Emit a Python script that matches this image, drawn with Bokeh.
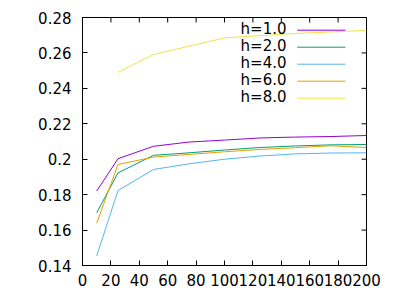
from bokeh.plotting import figure
from bokeh.models import Range1d, LinearAxis, FixedTicker, Label, Arrow
from bokeh.embed import file_html
from bokeh.resources import INLINE

# ---- data ----
x_vals = [10, 25, 50, 75, 100, 125, 150, 175, 200]
h1 = [0.1820, 0.2003, 0.2073, 0.2097, 0.2108, 0.2120, 0.2125, 0.2128, 0.2134]
h2 = [0.1697, 0.1923, 0.2022, 0.2036, 0.2052, 0.2066, 0.2075, 0.2081, 0.2083]
h4 = [0.1454, 0.1823, 0.1942, 0.1974, 0.2000, 0.2018, 0.2030, 0.2035, 0.2036]
h6 = [0.1639, 0.1970, 0.2012, 0.2027, 0.2042, 0.2055, 0.2065, 0.2076, 0.2066]
x_h8 = [25, 50, 100, 150, 200]
h8 = [0.2490, 0.2591, 0.2685, 0.2710, 0.2727]

series_names = ["h=1.0", "h=2.0", "h=4.0", "h=6.0", "h=8.0"]
series_colors = ["#9400d3", "#009e73", "#56b4e9", "#e69f00", "#f0e442"]

x_ticks = [0, 20, 40, 60, 80, 100, 120, 140, 160, 180, 200]
y_ticks = [0.14, 0.16, 0.18, 0.2, 0.22, 0.24, 0.26, 0.28]
y_tick_labels = ["0.14", "0.16", "0.18", "0.2", "0.22", "0.24", "0.26", "0.28"]

FONT = "DejaVu Sans"
FS = "15px"

W, H = 400, 300
BL, BR, BT, BB = 82, 34, 17, 35
X0, X1 = 0, 200
Y0, Y1 = 0.14, 0.28
TICK = 5  # px

p = figure(width=W, height=H, output_backend="svg", toolbar_location=None,
           x_range=Range1d(X0, X1), y_range=Range1d(Y0, Y1),
           min_border_left=BL, min_border_right=BR, min_border_top=BT, min_border_bottom=BB,
           x_axis_type=None, y_axis_type=None)
p.grid.visible = False
p.outline_line_color = "black"
p.outline_line_width = 1
p.background_fill_color = "white"
p.border_fill_color = "white"

def style_axis(ax):
    ax.axis_line_color = "black"
    ax.major_tick_line_color = "black"
    ax.major_tick_in = TICK
    ax.major_tick_out = 0
    ax.minor_tick_line_color = None
    ax.major_label_text_font = FONT
    ax.major_label_text_font_size = FS
    ax.major_label_text_color = "black"

xb = LinearAxis(ticker=FixedTicker(ticks=x_ticks))
style_axis(xb)
xb.major_label_standoff = 8
p.add_layout(xb, "below")

yl = LinearAxis(ticker=FixedTicker(ticks=y_ticks),
                major_label_overrides={t: l for t, l in zip(y_ticks, y_tick_labels)})
style_axis(yl)
yl.major_label_standoff = 11
p.add_layout(yl, "left")

# mirrored ticks on top and right edges
fw = W - BL - BR
fh = H - BT - BB
dx = TICK * (X1 - X0) / fw
dy = TICK * (Y1 - Y0) / fh
p.segment(x0=x_ticks, y0=[Y1] * len(x_ticks), x1=x_ticks, y1=[Y1 - dy] * len(x_ticks),
          line_color="black", line_width=1)
p.segment(x0=[X1] * len(y_ticks), y0=y_ticks, x1=[X1 - dx] * len(y_ticks), y1=y_ticks,
          line_color="black", line_width=1)

xs_list = [x_vals, x_vals, x_vals, x_vals, x_h8]
ys_list = [h1, h2, h4, h6, h8]
for xs, ys, c in zip(xs_list, ys_list, series_colors):
    p.line(xs, ys, line_color=c, line_width=1)

# legend (label left, sample line right), screen units relative to frame
for i, (name, c) in enumerate(zip(series_names, series_colors)):
    ty = 236.7 - 17 * i
    p.add_layout(Label(x=204, y=ty, x_units="screen", y_units="screen", text=name,
                       text_align="right", text_baseline="middle",
                       text_font=FONT, text_font_size=FS, text_color="black"))
    p.add_layout(Arrow(end=None, start=None, x_start=214.7, y_start=ty - 1.4,
                       x_end=263, y_end=ty - 1.4, start_units="screen", end_units="screen",
                       line_color=c, line_width=1))

open("out.html", "w").write(file_html(p, INLINE))
